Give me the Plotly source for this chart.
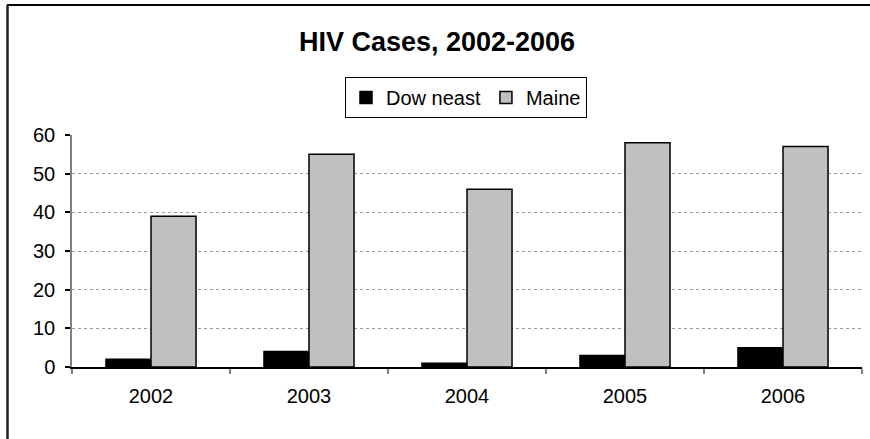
import plotly.graph_objects as go

years = ["2002", "2003", "2004", "2005", "2006"]
downeast = [2, 4, 1, 3, 5]
maine = [39, 55, 46, 58, 57]
series_names = ["Dow neast", "Maine"]
title_text = "HIV Cases, 2002-2006"

W, H = 870, 439
ML, MR, MT, MB = 72, 8, 135, 72
PW, PH = W - ML - MR, H - MT - MB


def px_x(x):
    return (x - ML) / PW


def px_y(y):
    return (H - MB - y) / PH


FONT = "Liberation Sans, Arial, sans-serif"

fig = go.Figure()
fig.add_trace(go.Bar(x=years, y=downeast, name=series_names[0],
                     marker=dict(color="#000000", line=dict(color="#000000", width=1.5))))
fig.add_trace(go.Bar(x=years, y=maine, name=series_names[1],
                     marker=dict(color="#C0C0C0", line=dict(color="#000000", width=1.5))))

fig.update_layout(
    width=W, height=H,
    margin=dict(l=ML, r=MR, t=MT, b=MB, pad=0),
    paper_bgcolor="white", plot_bgcolor="white",
    barmode="group", bargap=0.43, bargroupgap=0,
    font=dict(family=FONT, size=20, color="#000000"),
    title=dict(text="<b>" + title_text + "</b>", x=437 / W, xanchor="center",
               y=1 - 42 / H, yanchor="middle", font=dict(size=27, family=FONT, color="#000000")),
    legend=dict(orientation="h", x=px_x(466), xanchor="center", y=px_y(77), yanchor="top",
                bordercolor="#000000", borderwidth=1, bgcolor="white",
                font=dict(size=20, family=FONT), traceorder="normal"),
    showlegend=True,
)

fig.update_xaxes(showline=True, linecolor="#000000", linewidth=1.5,
                 ticks="outside", tickson="boundaries", ticklen=5, tickcolor="#808080",
                 tickwidth=1.5, showgrid=False, ticklabelstandoff=10, fixedrange=True)
fig.update_yaxes(range=[0, 60], dtick=10, showline=True, linecolor="#808080", linewidth=1.5,
                 ticks="outside", ticklen=5, tickcolor="#000000", tickwidth=1.5,
                 showgrid=True, gridcolor="#999999", gridwidth=1, griddash="dot",
                 zeroline=False, ticklabelstandoff=6, fixedrange=True)

# outer chart border (top and left edges visible)
fig.add_shape(type="line", xref="paper", yref="paper",
              x0=px_x(7), x1=px_x(W + 2), y0=px_y(5), y1=px_y(5),
              line=dict(color="#000000", width=2))
fig.add_shape(type="line", xref="paper", yref="paper",
              x0=px_x(7.5), x1=px_x(7.5), y0=px_y(5), y1=px_y(440),
              line=dict(color="#222222", width=2.5))

fig.write_html("out.html", config={"displayModeBar": False},
               post_script="document.body.style.margin='0';")
